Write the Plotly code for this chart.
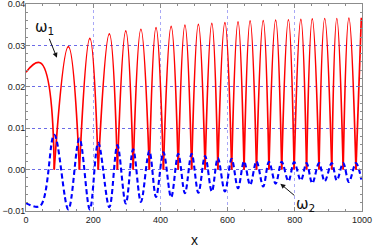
import plotly.graph_objects as go

# ---- data ----
red_start = (0, 0.0235)
red_peak_x = [42, 126, 190, 248, 297, 342, 387, 432, 473, 513, 553, 592,
              631, 667, 706, 743, 781, 818, 852, 889, 925, 961, 998]
red_peak_y = [0.0258, 0.0297, 0.0317, 0.0328, 0.0335, 0.0339, 0.0343, 0.0346,
              0.0349, 0.0351, 0.0353, 0.0355, 0.0357, 0.0359, 0.0360, 0.0361,
              0.0362, 0.0363, 0.0364, 0.0365, 0.0365, 0.0366, 0.0367]
red_zero_x = [84, 159, 215, 272, 319, 367, 409, 453, 493, 533, 571, 612,
              649, 686, 723, 761, 798, 835, 872, 910, 944, 982]

blue_start = (0, -0.0081)
blue_peak_x = red_zero_x
blue_peak_y = [0.0084, 0.0075, 0.0065, 0.0059, 0.0049, 0.0045, 0.0042, 0.0038,
               0.0038, 0.0033, 0.0028, 0.0026, 0.0020, 0.0020, 0.0019, 0.0019,
               0.0018, 0.0016, 0.0016, 0.0016, 0.0016, 0.0016]
blue_trough_x = red_peak_x
blue_trough_y = [-0.0088, -0.0096, -0.0096, -0.0091, -0.0082, -0.0078, -0.0066,
                 -0.0067, -0.0057, -0.0056, -0.0053, -0.0053, -0.0045, -0.0037,
                 -0.0041, -0.0034, -0.0028, -0.0026, -0.0033, -0.0028, -0.0026,
                 -0.0030, -0.0024]

x_ticks = [0, 200, 400, 600, 800, 1000]
y_ticks = [-0.01, 0.00, 0.01, 0.02, 0.03, 0.04]

# ---- build red trace: arches split at the zeros (sharp V) ----
rx, ry = [red_start[0]], [red_start[1]]
for i, z in enumerate(red_zero_x):
    rx += [red_peak_x[i], z, None, z]
    ry += [red_peak_y[i], 0.0, None, 0.0]
rx.append(red_peak_x[-1])
ry.append(red_peak_y[-1])

# ---- build blue trace: alternating troughs and peaks ----
bx, by = [blue_start[0]], [blue_start[1]]
for i in range(len(blue_trough_x)):
    bx.append(blue_trough_x[i]); by.append(blue_trough_y[i])
    if i < len(blue_peak_x):
        bx.append(blue_peak_x[i]); by.append(blue_peak_y[i])

fig = go.Figure()
fig.add_trace(go.Scatter(x=rx, y=ry, mode="lines", connectgaps=False,
                         line=dict(color="#ff0000", width=1.7, shape="spline",
                                   smoothing=1.3),
                         showlegend=False, hoverinfo="skip"))
fig.add_trace(go.Scatter(x=bx, y=by, mode="lines",
                         line=dict(color="#0000ff", width=2.1, shape="spline",
                                   dash="5px,3px"),
                         showlegend=False, hoverinfo="skip"))

axis_common = dict(showline=True, linecolor="#8c8c8c", linewidth=1, mirror="allticks",
                   ticks="inside", ticklen=4, tickcolor="#8c8c8c", automargin=False,
                   showgrid=True, gridwidth=1,
                   griddash="dot", zeroline=False, ticklabeloverflow="allow",
                   tickfont=dict(family="Liberation Sans, Arial, sans-serif",
                                 size=9, color="#222"))

fig.update_xaxes(range=[0, 1000], tickvals=x_ticks, gridcolor="rgba(110,110,240,0.6)",
                 minor=dict(dtick=50, ticks="inside", ticklen=2,
                            tickcolor="#8c8c8c", showgrid=False),
                 **axis_common)
fig.update_yaxes(range=[-0.01, 0.04], tickvals=y_ticks, tickformat=".2f",
                 gridcolor="rgba(70,70,225,0.8)", ticklabelstandoff=-2,
                 minor=dict(dtick=0.002, ticks="inside", ticklen=2,
                            tickcolor="#8c8c8c", showgrid=False),
                 **axis_common)

fig.add_annotation(x=0.5, xref="paper", y=-0.14, yref="paper", text="x",
                   showarrow=False, yanchor="middle",
                   font=dict(family="Liberation Sans, Arial, sans-serif", size=14, color="#111"))

fig.add_annotation(x=92, y=0.0270, text="ω<sub>1</sub>", showarrow=True,
                   ax=-12, ay=-30, arrowhead=2, arrowsize=1, arrowwidth=1,
                   arrowcolor="#111",
                   font=dict(family="DejaVu Sans, sans-serif", size=15, color="#111"))
fig.add_annotation(x=757, y=-0.0034, text="ω<sub>2</sub>", showarrow=True,
                   ax=25, ay=21, arrowhead=2, arrowsize=1, arrowwidth=1,
                   arrowcolor="#111",
                   font=dict(family="DejaVu Sans, sans-serif", size=15, color="#111"))

fig.update_layout(width=374, height=248, margin=dict(l=26, r=12, t=4, b=37),
                  paper_bgcolor="white", plot_bgcolor="white", hovermode=False)

fig.write_html("out.html", config={"displayModeBar": False},
               post_script="document.body.style.margin='0';document.body.style.overflow='hidden';")
